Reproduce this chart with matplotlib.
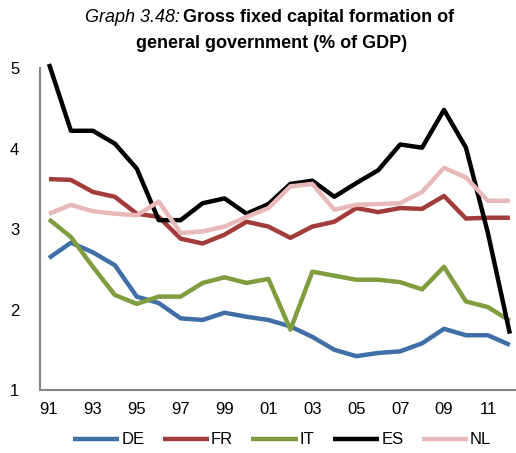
import numpy as np
import matplotlib.pyplot as plt

plt.rcParams['font.family'] = ['Liberation Sans', 'DejaVu Sans']

# Data (1991-2012, % of GDP)
years = list(range(1991, 2013))
tick_labels = ["91", "93", "95", "97", "99", "01", "03", "05", "07", "09", "11"]

de = [2.64, 2.83, 2.71, 2.55, 2.16, 2.08, 1.89, 1.87, 1.96, 1.91, 1.87,
      1.79, 1.66, 1.50, 1.42, 1.46, 1.48, 1.58, 1.76, 1.68, 1.68, 1.56]
fr = [3.62, 3.61, 3.46, 3.40, 3.19, 3.15, 2.88, 2.82, 2.93, 3.09, 3.03,
      2.89, 3.03, 3.09, 3.26, 3.21, 3.26, 3.25, 3.41, 3.13, 3.14, 3.14]
it = [3.12, 2.90, 2.53, 2.18, 2.07, 2.16, 2.16, 2.33, 2.40, 2.33, 2.38,
      1.75, 2.47, 2.42, 2.37, 2.37, 2.34, 2.25, 2.53, 2.10, 2.03, 1.86]
es = [5.05, 4.22, 4.22, 4.06, 3.75, 3.11, 3.11, 3.32, 3.38, 3.19, 3.31,
      3.56, 3.60, 3.40, 3.57, 3.73, 4.05, 4.01, 4.48, 4.01, 2.95, 1.70]
nl = [3.19, 3.30, 3.22, 3.19, 3.17, 3.34, 2.95, 2.97, 3.03, 3.15, 3.26,
      3.53, 3.56, 3.24, 3.30, 3.31, 3.32, 3.46, 3.76, 3.64, 3.35, 3.35]

series = [("DE", de, "#3f6fa6"), ("FR", fr, "#a13c3a"), ("IT", it, "#7f9c3f"),
          ("ES", es, "#000000"), ("NL", nl, "#e8b9b8")]

fig = plt.figure(figsize=(5.16, 4.53), dpi=100)
ax = fig.add_axes([40 / 516, 63 / 453, 476 / 516, 322 / 453])

x = np.arange(len(years))
for name, vals, col in series:
    ax.plot(x, vals, color=col, lw=3.2, label=name,
            solid_capstyle='butt', clip_on=(name != "ES"))

ax.set_ylim(1, 5)
ax.set_yticks([1, 2, 3, 4, 5])
ax.set_xlim(-0.41, 21.28)
ax.set_xticks(x[::2])
ax.set_xticklabels(tick_labels)
ax.tick_params(length=0, labelsize=12, colors='black')
ax.tick_params(axis='y', pad=15)
ax.tick_params(axis='x', pad=9)

for s in ['top', 'right']:
    ax.spines[s].set_visible(False)
for s in ['left', 'bottom']:
    ax.spines[s].set_color('#868686')
    ax.spines[s].set_linewidth(1.5)

# title: italic label + bold text on the first line
fig.text(180 / 516, 1 - 18 / 453, "Graph 3.48:", style='italic', fontsize=13,
         ha='right', va='center')
fig.text(183 / 516, 1 - 18 / 453, "Gross fixed capital formation of",
         weight='bold', fontsize=13, ha='left', va='center')
fig.text(272 / 516, 1 - 43 / 453, "general government (% of GDP)",
         weight='bold', fontsize=13, ha='center', va='center')

leg = fig.legend(loc='center', bbox_to_anchor=(282 / 516, 1 - 440 / 453),
                 ncol=5, frameon=False, fontsize=12, handlelength=2.8,
                 handletextpad=0.1, columnspacing=1.1)
for line in leg.get_lines():
    line.set_linewidth(3.2)

fig.savefig("out.png", dpi=100)
